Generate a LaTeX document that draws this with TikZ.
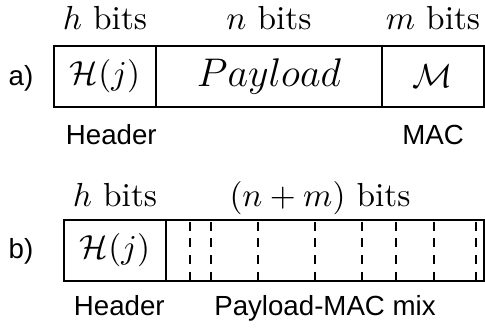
\documentclass[tikz,border=0pt]{standalone}
\usepackage{fontspec}
\setsansfont{Liberation Sans}
\usetikzlibrary{positioning}

\tikzstyle{field}=[rectangle, draw=black, line width=0.6pt, minimum height=18.3pt, inner sep=0pt, outer sep=0pt, text centered, font=\normalsize]
\tikzstyle{bits}=[inner sep=0pt, anchor=base]
\tikzstyle{tagtext}=[inner sep=0pt, anchor=base, font=\sffamily\fontsize{8.3}{10}\selectfont]
\tikzstyle{mixdash}=[line width=0.6pt, dash pattern=on 2.7pt off 2.3pt]

\begin{document}
\begin{tikzpicture}[x=0.3pt, y=-0.3pt]
\useasboundingbox (0,0) rectangle (485,329);

% a) plain packet
\node(hdrA)[field, minimum width=30.6pt, anchor=north west] at (54,46){$\mathcal{H}(j)$};
\node(payA)[field, minimum width=67.8pt, right=0pt of hdrA, font=\fontsize{11.5}{13}\selectfont]{$Payload$};
\node(macA)[field, minimum width=30.6pt, right=0pt of payA]{$\mathcal{M}$};

\node(hbA)[bits, above=5pt of hdrA, anchor=base]{$h$ bits};
\node(nbA)[bits, above=5pt of payA, anchor=base]{$n$ bits};
\node(mbA)[bits, above=5pt of macA, anchor=base]{$m$ bits};
\node(hnA)[tagtext, below=11.4pt of hdrA, anchor=base, xshift=1.9pt]{Header};
\node(mnA)[tagtext, below=11.4pt of macA, anchor=base]{MAC};
\node(lblA)[tagtext, left=6pt of hdrA, anchor=east, yshift=-0.6pt]{a)};

% b) mixed packet
\node(hdrB)[field, minimum width=30.6pt, anchor=north west] at (64,219.7){$\mathcal{H}(j)$};
\node(mix)[field, minimum width=95.4pt, right=0pt of hdrB]{};

\foreach \d in {7.2,13.5,27.5,44.7,58.7,69,80.5,93}
  \draw[mixdash]([xshift=\d pt, yshift=-0.6pt]mix.north west)--([xshift=\d pt]mix.south west);

\node(hbB)[bits, above=4pt of hdrB, anchor=base]{$h$ bits};
\node(nmB)[bits, above=4pt of mix, anchor=base, xshift=-1.5pt]{$(n+m)$ bits};
\node(hnB)[tagtext, below=10.3pt of hdrB, anchor=base, xshift=1.3pt]{Header};
\node(mxB)[tagtext, below=10.3pt of mix, anchor=base]{Payload-MAC mix};
\node(lblB)[tagtext, left=9pt of hdrB, anchor=east, yshift=-0.4pt]{b)};

\end{tikzpicture}
\end{document}
